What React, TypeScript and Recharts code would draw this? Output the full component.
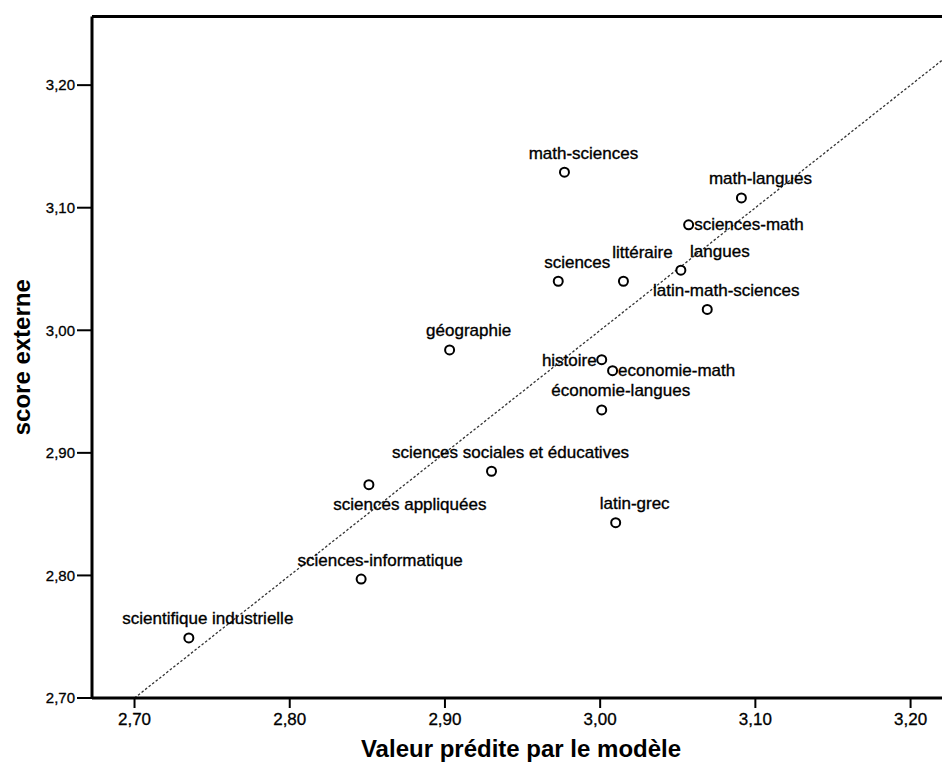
import {
    ScatterChart,
    Scatter,
    XAxis,
    YAxis,
    ReferenceLine,
} from "recharts";

const names = [
    "scientifique industrielle",
    "sciences-informatique",
    "sciences appliquées",
    "sciences sociales et éducatives",
    "géographie",
    "histoire",
    "economie-math",
    "économie-langues",
    "latin-grec",
    "math-sciences",
    "math-langues",
    "sciences-math",
    "langues",
    "littéraire",
    "sciences",
    "latin-math-sciences",
];

// Valeur prédite par le modèle
const predicted = [
    2.735, 2.846, 2.851, 2.930, 2.903, 3.001, 3.008, 3.001,
    3.010, 2.977, 3.091, 3.057, 3.052, 3.015, 2.973, 3.069,
];

// score externe
const external = [
    2.749, 2.797, 2.874, 2.885, 2.984, 2.976, 2.967, 2.935,
    2.843, 3.129, 3.108, 3.086, 3.049, 3.040, 3.040, 3.017,
];

const tickValues = [2.7, 2.8, 2.9, 3.0, 3.1, 3.2];

const xDomain: [number, number] = [2.6726, 3.2254];
const yDomain: [number, number] = [2.7, 3.256];

const data = names.map((name, i) => ({ name, x: predicted[i], y: external[i] }));

// where the label sits relative to its point (default: above)
const placement: Record<string, string> = {
    histoire: "left",
    "economie-math": "right",
    "sciences-math": "right",
    "sciences appliquées": "below",
    littéraire: "raised",
    langues: "wide",
};

const FONT = "'Liberation Sans', Arial, sans-serif";

const fmt = (v: number) => v.toFixed(2).replace(".", ",");

function PointWithLabel(props: any) {
    const { cx, cy, payload } = props;
    const kind = placement[payload.name] || "above";
    let tx = cx + 19;
    let ty = cy - 13.5;
    let anchor: "start" | "middle" | "end" = "middle";
    if (kind === "left") {
        tx = cx - 5;
        ty = cy + 6;
        anchor = "end";
    } else if (kind === "right") {
        tx = cx + 5.5;
        ty = cy + 5.5;
        anchor = "start";
    } else if (kind === "below") {
        tx = cx + 41;
        ty = cy + 25;
    } else if (kind === "raised") {
        ty = cy - 23.5;
    } else if (kind === "wide") {
        tx = cx + 39;
        ty = cy - 13;
    }
    return (
        <g>
            <circle cx={cx} cy={cy} r={4.5} fill="#fff" stroke="#000" strokeWidth={2} />
            <text
                x={tx}
                y={ty}
                textAnchor={anchor}
                fontSize={17}
                fontFamily={FONT}
                fill="#000"
                stroke="#000"
                strokeWidth={0.35}
            >
                {payload.name}
            </text>
        </g>
    );
}

export default function App() {
    return (
        <div
            style={{
                position: "fixed",
                left: 0,
                top: 0,
                width: 942,
                height: 770,
                overflow: "hidden",
                background: "#fff",
            }}
        >
            <ScatterChart
                width={1000}
                height={770}
                margin={{ top: 16.5, right: 50, bottom: 0, left: 0 }}
            >
                <XAxis
                    type="number"
                    dataKey="x"
                    domain={xDomain}
                    allowDataOverflow
                    ticks={tickValues}
                    tickFormatter={fmt}
                    height={72}
                    tickSize={10}
                    tickMargin={5}
                    axisLine={{ stroke: "#000", strokeWidth: 3 }}
                    tickLine={{ stroke: "#000", strokeWidth: 2 }}
                    tick={{ fill: "#000", stroke: "#000", strokeWidth: 0.3, fontSize: 17, fontFamily: FONT }}
                    label={{
                        content: ({ viewBox }: any) => (
                            <text
                                x={viewBox.x + viewBox.width / 2}
                                y={viewBox.y + viewBox.height - 13}
                                textAnchor="middle"
                                fontSize={24}
                                fontWeight="bold"
                                fontFamily={FONT}
                                fill="#000"
                            >
                                Valeur prédite par le modèle
                            </text>
                        ),
                    }}
                />
                <YAxis
                    type="number"
                    dataKey="y"
                    domain={yDomain}
                    allowDataOverflow
                    ticks={tickValues}
                    tickFormatter={fmt}
                    width={92}
                    tickSize={15}
                    tickMargin={2}
                    axisLine={{ stroke: "#000", strokeWidth: 3 }}
                    tickLine={{ stroke: "#000", strokeWidth: 2 }}
                    tick={{ fill: "#000", stroke: "#000", strokeWidth: 0.3, fontSize: 15, fontFamily: FONT }}
                    label={{
                        content: ({ viewBox }: any) => {
                            const x = 30;
                            const y = viewBox.y + viewBox.height / 2;
                            return (
                                <text
                                    x={x}
                                    y={y}
                                    transform={`rotate(-90, ${x}, ${y})`}
                                    textAnchor="middle"
                                    fontSize={24}
                                    fontWeight="bold"
                                    fontFamily={FONT}
                                    fill="#000"
                                >
                                    score externe
                                </text>
                            );
                        },
                    }}
                />
                {/* top edge of the frame */}
                <ReferenceLine y={yDomain[1]} stroke="#000" strokeWidth={3} />
                {/* diagonal y = x */}
                <ReferenceLine
                    segment={[
                        { x: 2.7, y: 2.7 },
                        { x: xDomain[1], y: xDomain[1] },
                    ]}
                    stroke="#333"
                    strokeWidth={1.3}
                    strokeDasharray="2.5 2"
                />
                <Scatter
                    data={data}
                    isAnimationActive={false}
                    shape={(p: any) => <PointWithLabel {...p} />}
                />
            </ScatterChart>
        </div>
    );
}
